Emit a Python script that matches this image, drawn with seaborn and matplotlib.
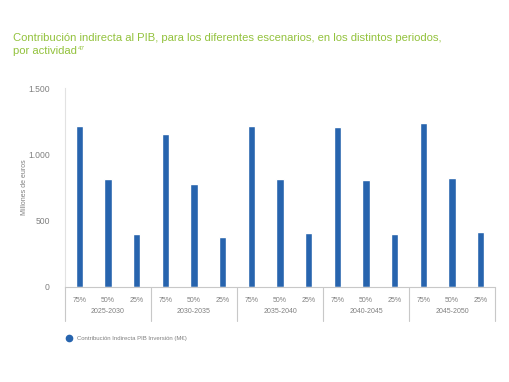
import pandas as pd
import matplotlib
matplotlib.use("Agg")
import matplotlib.pyplot as plt
import matplotlib.transforms as mtransforms
from matplotlib.lines import Line2D
import seaborn as sns

periods = ["2025-2030", "2030-2035", "2035-2040", "2040-2045", "2045-2050"]
scenarios = ["75%", "50%", "25%"]
values = [
    [1213, 814, 402],
    [1153, 776, 380],
    [1216, 816, 405],
    [1206, 806, 397],
    [1233, 824, 414],
]
y_ticks = [0, 500, 1000, 1500]
y_tick_labels = ["0", "500", "1.000", "1.500"]

title_1 = "Contribución indirecta al PIB, para los diferentes escenarios, en los distintos periodos,"
title_2 = "por actividad"
title_note = "47"
y_label = "Millones de euros"
legend_label = "Contribución Indirecta PIB Inversión (M€)"

blue = "#2764ae"
green = "#93c23d"
grey_text = "#808080"
grey_line = "#c8c8c8"

rows = []
for p, vals in zip(periods, values):
    for s, v in zip(scenarios, vals):
        rows.append({"key": p + " " + s, "period": p, "scenario": s, "value": v})
df = pd.DataFrame(rows)

sns.set_style("white")
plt.rcParams["font.family"] = ["Liberation Sans", "DejaVu Sans"]

fig = plt.figure(figsize=(5.1, 3.82), dpi=100)
ax = fig.add_axes([65 / 510, 1 - 287 / 382, 430 / 510, 199 / 382])

sns.barplot(data=df, x="key", y="value", order=list(df["key"]), color=blue,
            width=0.25, saturation=1, ax=ax)

ax.set_xlim(-0.5, len(df) - 0.5)
ax.set_ylim(0, 1500)
ax.set_yticks(y_ticks)
ax.set_yticklabels(y_tick_labels, fontsize=6.2, color=grey_text)
ax.set_xticks(range(len(df)))
ax.set_xticklabels(df["scenario"], fontsize=5, color=grey_text)
ax.tick_params(axis="x", length=0, pad=7)
ax.tick_params(axis="y", length=0, pad=11)
ax.set_xlabel("")
ax.set_ylabel(y_label, fontsize=5, color=grey_text)
ax.yaxis.set_label_coords(-37 / 430, 0.5)

for side in ["top", "right"]:
    ax.spines[side].set_visible(False)
ax.spines["left"].set_color("#e2e2e2")
ax.spines["bottom"].set_color(grey_line)
ax.spines["left"].set_linewidth(0.8)
ax.spines["bottom"].set_linewidth(0.8)

# period labels and separators below the axis
trans = mtransforms.blended_transform_factory(ax.transData, ax.transAxes)
for i, p in enumerate(periods):
    ax.text(i * 3 + 1, -0.125, p, transform=trans, ha="center", va="center",
            fontsize=5, color=grey_text)
for i in range(len(periods) + 1):
    ax.plot([i * 3 - 0.5, i * 3 - 0.5], [0, -0.17], transform=trans,
            color=grey_line, lw=0.8, clip_on=False)

fig.text(13 / 510, 1 - 38 / 382, title_1, fontsize=8.1, color=green,
         ha="left", va="center")
t2 = fig.text(13 / 510, 1 - 51 / 382, title_2, fontsize=8.1, color=green,
              ha="left", va="center")
renderer = fig.canvas.get_renderer()
bb = t2.get_window_extent(renderer).transformed(fig.transFigure.inverted())
fig.text(bb.x1 + 1 / 510, 1 - 48 / 382, title_note, fontsize=4.5, color=green,
         ha="left", va="center")

handle = Line2D([], [], marker="o", color=blue, linestyle="", markersize=4.5)
fig.legend(handles=[handle], labels=[legend_label], loc="center left",
           bbox_to_anchor=(58 / 510, 1 - 338 / 382), frameon=False,
           fontsize=4.3, handletextpad=0.2, labelcolor=grey_text)

fig.savefig("out.png", dpi=100)
